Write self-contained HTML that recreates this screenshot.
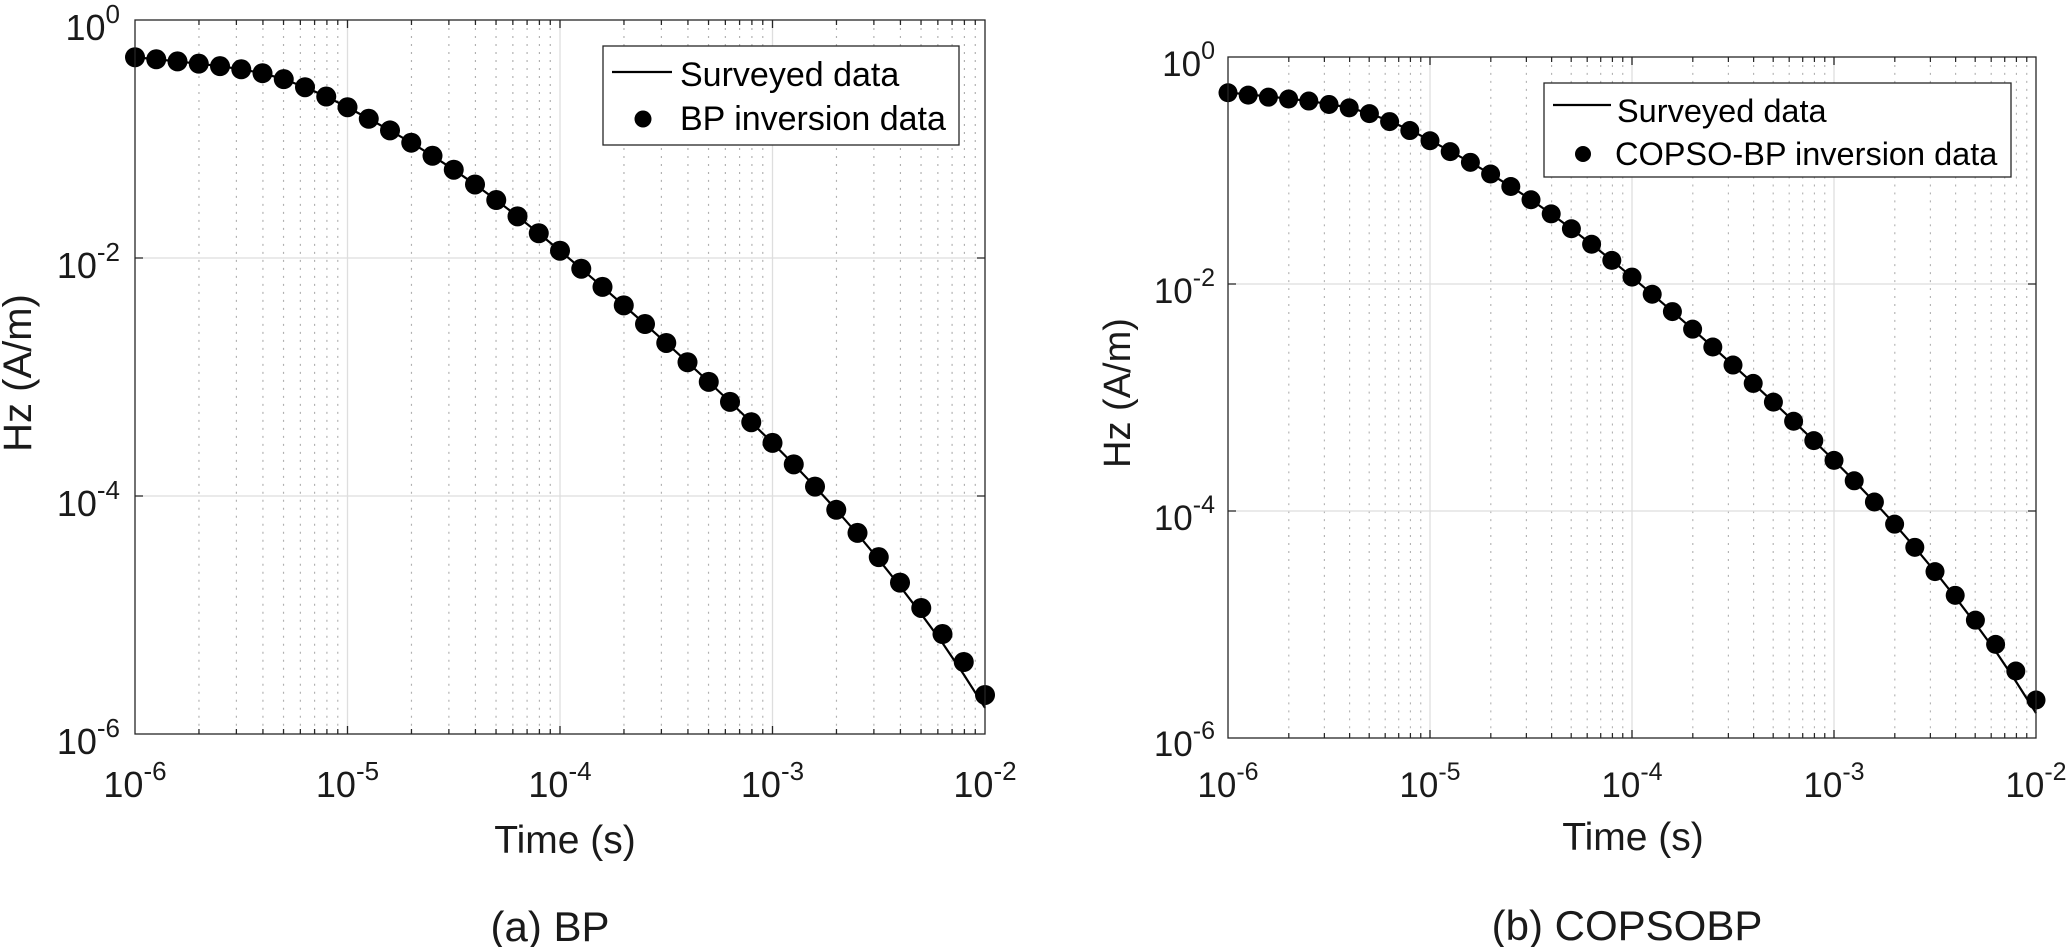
<!DOCTYPE html>
<html>
<head>
<meta charset="utf-8">
<style>
html,body{margin:0;padding:0;background:#fff;}
svg{display:block;}
</style>
</head>
<body>
<svg width="2067" height="947" xmlns="http://www.w3.org/2000/svg" font-family="'Liberation Sans', Arial, sans-serif">
<defs>
<path id="mx" d="M30.103 0v1M47.712 0v1M60.206 0v1M69.897 0v1M77.815 0v1M84.51 0v1M90.309 0v1M95.424 0v1M130.103 0v1M147.712 0v1M160.206 0v1M169.897 0v1M177.815 0v1M184.51 0v1M190.309 0v1M195.424 0v1M230.103 0v1M247.712 0v1M260.206 0v1M269.897 0v1M277.815 0v1M284.51 0v1M290.309 0v1M295.424 0v1M330.103 0v1M347.712 0v1M360.206 0v1M369.897 0v1M377.815 0v1M384.51 0v1M390.309 0v1M395.424 0v1"/>
</defs>
<rect width="2067" height="947" fill="#fff"/>

<!-- ================= LEFT PLOT ================= -->
<use href="#mx" transform="translate(135,20) scale(2.125,714)" fill="none" stroke="#b0b0b0" stroke-width="0.55" stroke-dasharray="0.0028 0.0084"/>
<path d="M347.5 20V734M560 20V734M772.5 20V734M135 258H985M135 496H985" stroke="#dedede" stroke-width="1.3" fill="none"/>

<g transform="matrix(2.125,0,0,1.19,135,20)">
<polyline fill="none" stroke="#000" stroke-width="2.2" stroke-linejoin="round" vector-effect="non-scaling-stroke" points="0,31.3 10,33 20,34.8 30,36.7 40,38.8 50,41.4 60,44.7 70,49.7 80,56.5 90,64.3 100,73.3 110,83 120,92.8 130,103.1 140,114.1 150,125.8 160,138.2 170,151.3 180,165 190,179.2 200,193.9 210,209 220,224.3 230,239.8 240,255.5 250,271.4 260,287.6 270,304.1 280,320.9 290,338 300,355.4 310,373.4 320,392.1 330,411.6 340,432 350,453.4 360,475.8 370,499.2 380,523.5 390,550 400,578"/>
<path fill="none" stroke="#000" stroke-width="20" stroke-linecap="round" vector-effect="non-scaling-stroke" d="M0 31.3h0.01M10 33h0.01M20 34.8h0.01M30 36.7h0.01M40 38.8h0.01M50 41.4h0.01M60 44.7h0.01M70 49.7h0.01M80 56.5h0.01M90 64.3h0.01M100 73.3h0.01M110 83h0.01M120 92.8h0.01M130 103.1h0.01M140 114.1h0.01M150 125.8h0.01M160 138.2h0.01M170 151.3h0.01M180 165h0.01M190 179.2h0.01M200 193.9h0.01M210 209h0.01M220 224.3h0.01M230 239.8h0.01M240 255.5h0.01M250 271.4h0.01M260 287.6h0.01M270 304.1h0.01M280 320.9h0.01M290 338h0.01M300 355.4h0.01M310 373.4h0.01M320 392.1h0.01M330 411.6h0.01M340 431h0.01M350 451.4h0.01M360 472.8h0.01M370 494.1h0.01M380 516h0.01M390 539.5h0.01M400 567.2h0.01"/>
</g>

<rect x="135" y="20" width="850" height="714" fill="none" stroke="#262626" stroke-width="1.3"/>
<use href="#mx" transform="translate(135,729) scale(2.125,5)" fill="none" stroke="#262626" stroke-width="0.6"/>
<use href="#mx" transform="translate(135,20) scale(2.125,5)" fill="none" stroke="#262626" stroke-width="0.6"/>
<path d="M347.5 734v-8M560 734v-8M772.5 734v-8M347.5 20v8M560 20v8M772.5 20v8M135 258h8M135 496h8M985 258h-8M985 496h-8" stroke="#262626" stroke-width="1.3" fill="none"/>

<g font-size="36" fill="#1a1a1a" text-anchor="end">
<text x="120" y="40">10<tspan dy="-17" font-size="26">0</tspan></text>
<text x="120" y="278">10<tspan dy="-17" font-size="26">-2</tspan></text>
<text x="120" y="516">10<tspan dy="-17" font-size="26">-4</tspan></text>
<text x="120" y="754">10<tspan dy="-17" font-size="26">-6</tspan></text>
</g>
<g font-size="36" fill="#1a1a1a" text-anchor="middle">
<text x="135" y="797">10<tspan dy="-17" font-size="26">-6</tspan></text>
<text x="347.5" y="797">10<tspan dy="-17" font-size="26">-5</tspan></text>
<text x="560" y="797">10<tspan dy="-17" font-size="26">-4</tspan></text>
<text x="772.5" y="797">10<tspan dy="-17" font-size="26">-3</tspan></text>
<text x="985" y="797">10<tspan dy="-17" font-size="26">-2</tspan></text>
</g>
<text transform="translate(31,373) rotate(-90)" text-anchor="middle" font-size="40" fill="#1a1a1a">Hz (A/m)</text>
<text x="565" y="853" text-anchor="middle" font-size="39" fill="#1a1a1a">Time (s)</text>
<text x="550" y="941" text-anchor="middle" font-size="42" fill="#1a1a1a">(a) BP</text>

<rect x="603" y="46" width="356" height="99" fill="#fff" stroke="#262626" stroke-width="1.3"/>
<line x1="612" y1="72" x2="672" y2="72" stroke="#000" stroke-width="2.2"/>
<circle cx="643" cy="119" r="8.5" fill="#000"/>
<text x="680" y="86" font-size="34" fill="#000">Surveyed data</text>
<text x="680" y="130" font-size="34" fill="#000">BP inversion data</text>

<!-- ================= RIGHT PLOT ================= -->
<use href="#mx" transform="translate(1228,57) scale(2.02,681)" fill="none" stroke="#b0b0b0" stroke-width="0.55" stroke-dasharray="0.0029 0.0088"/>
<path d="M1430 57V738M1632 57V738M1834 57V738M1228 284H2036M1228 511H2036" stroke="#dedede" stroke-width="1.3" fill="none"/>

<g transform="matrix(2.02,0,0,1.135,1228,57)">
<polyline fill="none" stroke="#000" stroke-width="2.2" stroke-linejoin="round" vector-effect="non-scaling-stroke" points="0,31.3 10,33 20,34.8 30,36.7 40,38.8 50,41.4 60,44.7 70,49.7 80,56.5 90,64.3 100,73.3 110,83 120,92.8 130,103.1 140,114.1 150,125.8 160,138.2 170,151.3 180,165 190,179.2 200,193.9 210,209 220,224.3 230,239.8 240,255.5 250,271.4 260,287.6 270,304.1 280,320.9 290,338 300,355.4 310,373.4 320,392.1 330,411.6 340,432 350,453.4 360,475.8 370,499.2 380,523.5 390,550 400,578"/>
<path fill="none" stroke="#000" stroke-width="19" stroke-linecap="round" vector-effect="non-scaling-stroke" d="M0 31.5h0.01M10 33.6h0.01M20 35.4h0.01M30 37h0.01M40 38.8h0.01M50 41.8h0.01M60 44.8h0.01M70 49.9h0.01M80 56.9h0.01M90 64.8h0.01M100 73.8h0.01M110 83.4h0.01M120 92.8h0.01M130 103.1h0.01M140 114.1h0.01M150 125.8h0.01M160 138.2h0.01M170 151.3h0.01M180 165h0.01M190 179.2h0.01M200 193.9h0.01M210 209h0.01M220 224.3h0.01M230 239.8h0.01M240 255.5h0.01M250 271.4h0.01M260 287.6h0.01M270 304.1h0.01M280 320.9h0.01M290 338h0.01M300 355.4h0.01M310 373.4h0.01M320 392.1h0.01M330 411.6h0.01M340 432h0.01M350 453.4h0.01M360 474.3h0.01M370 496.2h0.01M380 517.5h0.01M390 541h0.01M400 566.5h0.01"/>
</g>

<rect x="1228" y="57" width="808" height="681" fill="none" stroke="#262626" stroke-width="1.3"/>
<use href="#mx" transform="translate(1228,733) scale(2.02,5)" fill="none" stroke="#262626" stroke-width="0.6"/>
<use href="#mx" transform="translate(1228,57) scale(2.02,5)" fill="none" stroke="#262626" stroke-width="0.6"/>
<path d="M1430 738v-8M1632 738v-8M1834 738v-8M1430 57v8M1632 57v8M1834 57v8M1228 284h8M1228 511h8M2036 284h-8M2036 511h-8" stroke="#262626" stroke-width="1.3" fill="none"/>

<g font-size="35" fill="#1a1a1a" text-anchor="end">
<text x="1215" y="76">10<tspan dy="-17" font-size="25">0</tspan></text>
<text x="1215" y="303">10<tspan dy="-17" font-size="25">-2</tspan></text>
<text x="1215" y="530">10<tspan dy="-17" font-size="25">-4</tspan></text>
<text x="1215" y="756">10<tspan dy="-17" font-size="25">-6</tspan></text>
</g>
<g font-size="35" fill="#1a1a1a" text-anchor="middle">
<text x="1228" y="797">10<tspan dy="-17" font-size="25">-6</tspan></text>
<text x="1430" y="797">10<tspan dy="-17" font-size="25">-5</tspan></text>
<text x="1632" y="797">10<tspan dy="-17" font-size="25">-4</tspan></text>
<text x="1834" y="797">10<tspan dy="-17" font-size="25">-3</tspan></text>
<text x="2036" y="797">10<tspan dy="-17" font-size="25">-2</tspan></text>
</g>
<text transform="translate(1130,393) rotate(-90)" text-anchor="middle" font-size="38" fill="#1a1a1a">Hz (A/m)</text>
<text x="1633" y="850" text-anchor="middle" font-size="39" fill="#1a1a1a">Time (s)</text>
<text x="1627" y="940" text-anchor="middle" font-size="42" fill="#1a1a1a">(b) COPSOBP</text>

<rect x="1544" y="83" width="467" height="94" fill="#fff" stroke="#262626" stroke-width="1.3"/>
<line x1="1553" y1="105" x2="1611" y2="105" stroke="#000" stroke-width="2.2"/>
<circle cx="1583" cy="154" r="8" fill="#000"/>
<text x="1617" y="122" font-size="32.5" fill="#000">Surveyed data</text>
<text x="1615" y="165" font-size="32.5" fill="#000">COPSO-BP inversion data</text>
</svg>
</body>
</html>
